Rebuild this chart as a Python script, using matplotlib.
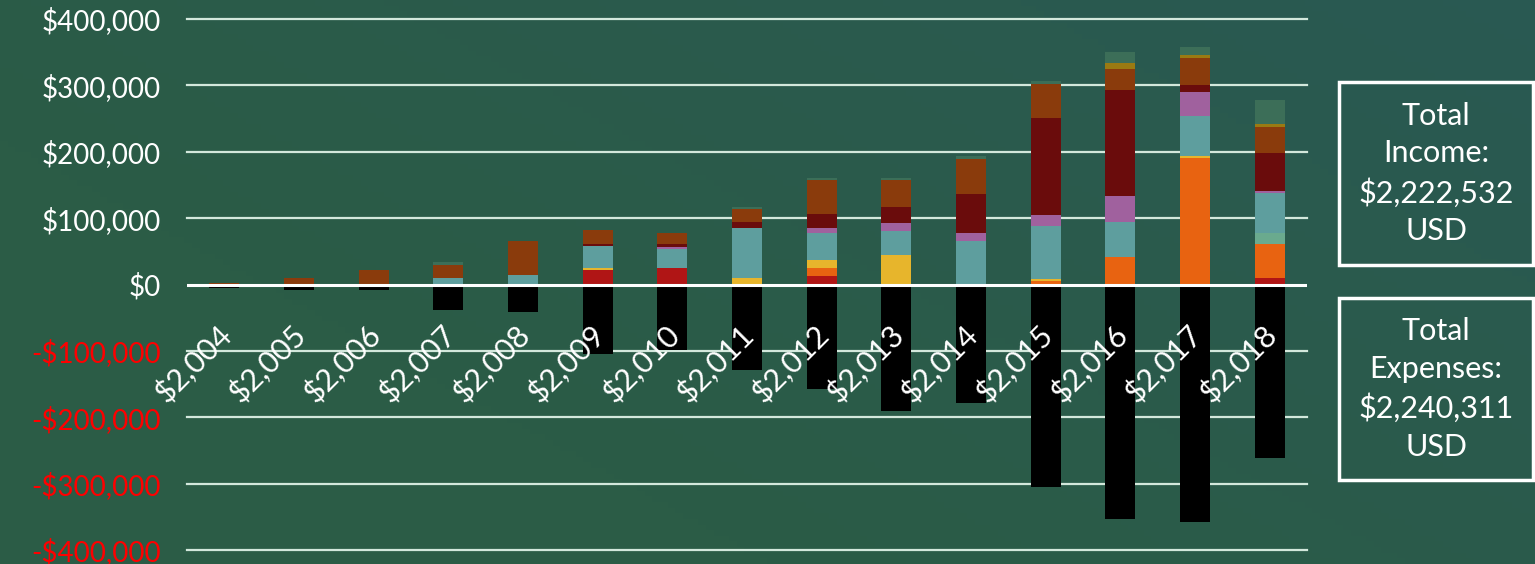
import numpy as np
import matplotlib
matplotlib.use("Agg")
import matplotlib.pyplot as plt
from matplotlib.patches import Rectangle

years = ['$2,004', '$2,005', '$2,006', '$2,007', '$2,008', '$2,009', '$2,010', '$2,011',
         '$2,012', '$2,013', '$2,014', '$2,015', '$2,016', '$2,017', '$2,018']

red        = [0, 0, 0, 0, 0, 21500, 25000, 0, 13000, 0, 0, 0, 0, 0, 9500]
orange     = [0, 0, 0, 0, 0, 0, 0, 0, 12500, 0, 0, 5000, 41000, 190000, 51700]
yellow     = [0, 0, 0, 0, 0, 3500, 0, 9500, 11500, 45000, 0, 3500, 0, 3000, 0]
lightgreen = [0, 0, 0, 0, 0, 0, 0, 0, 0, 0, 0, 0, 0, 0, 16000]
teal       = [0, 0, 0, 10000, 14000, 32600, 28000, 75700, 40600, 36000, 65000, 80300, 52700, 60200, 60200]
purple     = [0, 0, 0, 0, 0, 0, 4000, 0, 7500, 12000, 12000, 16500, 40000, 36100, 4000]
darkred    = [0, 0, 0, 0, 0, 3000, 4000, 8500, 21000, 24000, 60000, 145000, 159600, 12000, 56200]
brown      = [2000, 10000, 22000, 19600, 52000, 21000, 16000, 19600, 51000, 40000, 52700, 51700, 32000, 40600, 40100]
olive      = [0, 0, 0, 0, 0, 0, 0, 0, 0, 0, 0, 0, 8500, 4000, 3500]
topgreen   = [0, 0, 0, 4000, 0, 0, 0, 4000, 4000, 4000, 3500, 5000, 16500, 12500, 36600]
expenses   = [-6000, -9000, -9000, -38000, -42000, -105000, -98000, -129000, -158000,
              -190000, -178000, -305000, -354000, -358500, -262000]

y_ticks = [400000, 300000, 200000, 100000, 0, -100000, -200000, -300000, -400000]
income_text = "Total\nIncome:\n$2,222,532\nUSD"
expense_text = "Total\nExpenses:\n$2,240,311\nUSD"

series = [
    (red, '#B01515'), (orange, '#E86311'), (yellow, '#E7B52C'), (lightgreen, '#6AAA8E'),
    (teal, '#5E9E9E'), (purple, '#A0619E'), (darkred, '#6A0C0C'), (brown, '#8A3B0C'),
    (olive, '#9A7A12'), (topgreen, '#3C6E58'),
]

W, H = 1535, 564
fig = plt.figure(figsize=(W / 100, H / 100), dpi=100)

# background gradient
bg = fig.add_axes([0, 0, 1, 1])
bg.set_axis_off()
gx = np.linspace(0, 1, 200)
gy = np.linspace(0, 1, 100)
GX, GY = np.meshgrid(gx, gy)
t = np.clip(0.6 * GX + 0.4 * (1 - GY) - 0.3, 0, 1)
c0 = np.array([0x2B, 0x5C, 0x46]) / 255
c1 = np.array([0x29, 0x58, 0x58]) / 255
img = c0[None, None, :] * (1 - t[..., None]) + c1[None, None, :] * t[..., None]
bg.imshow(img, aspect='auto', extent=[0, 1, 0, 1], origin='upper')
bg.set_xlim(0, 1)
bg.set_ylim(0, 1)

font = 'Lato'
left, right = 187 / W, 1307 / W
top, bottom = 1 - 19 / H, 1 - 550 / H
ax = fig.add_axes([left, bottom, right - left, top - bottom])
ax.set_facecolor('none')
for s in ax.spines.values():
    s.set_visible(False)

x = np.arange(len(years))
for v in y_ticks:
    if v == 0:
        continue
    ax.axhline(v, color='#D3E8DC', lw=1.6, zorder=1, clip_on=False)

base = np.zeros(len(years))
for vals, col in series:
    vals = np.array(vals, dtype=float)
    ax.bar(x, vals, 0.4, bottom=base, color=col, zorder=2, linewidth=0)
    base += vals
ax.bar(x, expenses, 0.4, color='#000000', zorder=2, linewidth=0)
ax.axhline(0, color='white', lw=2.2, zorder=3)

ax.set_xlim(-0.5, len(years) - 0.5)
ax.set_ylim(-400000, 400000)
ax.set_xticks([])
ax.set_yticks(y_ticks)
labels = []
for v in y_ticks:
    labels.append(f"${v:,.0f}" if v >= 0 else f"-${-v:,.0f}")
ax.set_yticklabels(labels, fontsize=20, family=font)
ax.tick_params(axis='y', length=0, pad=19)
for lab, v in zip(ax.get_yticklabels(), y_ticks):
    lab.set_color('white' if v >= 0 else '#FF0000')

for i, lab in enumerate(years):
    ax.annotate(lab, xy=(i, 0), xytext=(-6, -25), textcoords='offset points',
                rotation=45, ha='right', va='top', rotation_mode='anchor',
                color='white', fontsize=22, family=font, zorder=4)

# summary boxes
for (y0, y1, txt) in [(82, 265, income_text), (298, 480, expense_text)]:
    fx0, fx1 = 1339 / W, 1533 / W
    fy0, fy1 = 1 - y1 / H, 1 - y0 / H
    fig.patches.append(Rectangle((fx0, fy0), fx1 - fx0, fy1 - fy0, transform=fig.transFigure,
                                 fill=False, edgecolor='white', lw=2.5))
    fig.text((fx0 + fx1) / 2, (fy0 + fy1) / 2, txt, ha='center', va='center', color='white',
             fontsize=22, family=font, linespacing=1.42)

fig.savefig('out.png', dpi=100)
